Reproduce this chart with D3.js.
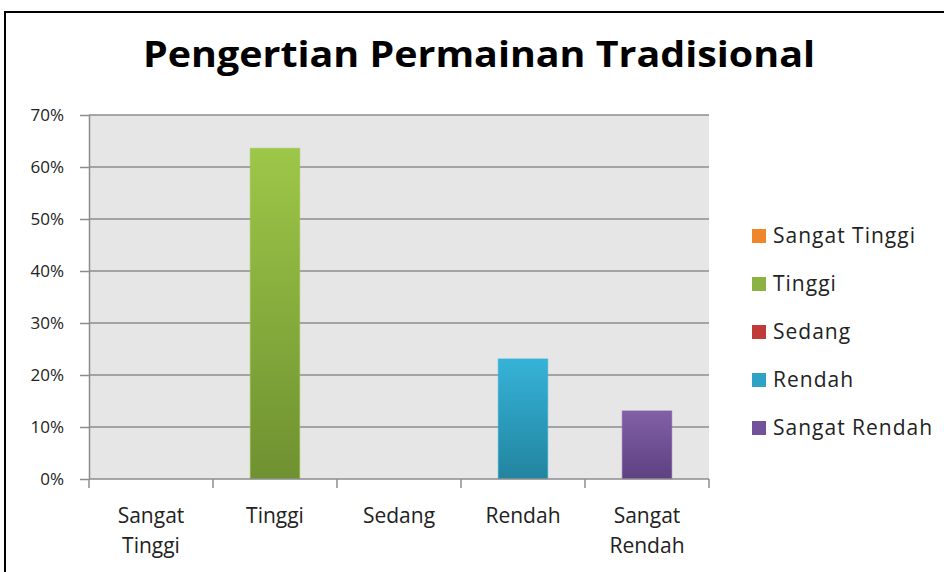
<!DOCTYPE html>
<html><head><meta charset="utf-8">
<script src="https://cdn.jsdelivr.net/npm/d3@7/dist/d3.min.js"></script>
<style>body{margin:0;background:#fff}svg{display:block}</style>
</head><body>
<svg id="c" width="944" height="572"></svg>
<script>
const title = "Pengertian Permainan Tradisional";
const categories = ["Sangat Tinggi","Tinggi","Sedang","Rendah","Sangat Rendah"];
const values = [0, 0.636, 0, 0.231, 0.131];
const yTicks = [0,0.1,0.2,0.3,0.4,0.5,0.6,0.7];
const colorsTop = ["#f7923a","#9dc748","#c9403c","#36b3d8","#8260a8"];
const colorsBot = ["#d8772a","#6f9131","#a4302d","#22849f","#5d4180"];
const legendColors = ["#f0862c","#8cb244","#c03a38","#2ea2c4","#72529a"];

const svg = d3.select("#c");
const font = "'Open Sans', Lato, sans-serif";
svg.append("rect").attr("x",5).attr("y",12).attr("width",945).attr("height",570)
  .attr("fill","#fff").attr("stroke","#000").attr("stroke-width",2);

const m = {l:89, r:709, t:115, b:479};
const x = d3.scaleBand().domain(categories).range([m.l,m.r]).paddingInner(0.6).paddingOuter(0.3);
const y = d3.scaleLinear().domain([0,0.7]).range([m.b,m.t]);

svg.append("rect").attr("x",m.l).attr("y",m.t).attr("width",m.r-m.l).attr("height",m.b-m.t).attr("fill","#e6e6e6");

svg.append("g").selectAll("line").data(yTicks.filter(d=>d>0)).join("line")
  .attr("x1",m.l).attr("x2",m.r).attr("y1",d=>y(d)).attr("y2",d=>y(d))
  .attr("stroke","#8c8c8c").attr("stroke-width",1.5);

const defs = svg.append("defs");
categories.forEach((c,i)=>{
  const g = defs.append("linearGradient").attr("id","g"+i).attr("x1",0).attr("x2",0).attr("y1",0).attr("y2",1);
  g.append("stop").attr("offset","0%").attr("stop-color",colorsTop[i]);
  g.append("stop").attr("offset","100%").attr("stop-color",colorsBot[i]);
});

svg.append("g").selectAll("rect").data(values).join("rect")
  .attr("x",(d,i)=>x(categories[i])).attr("width",x.bandwidth())
  .attr("y",d=>y(d)).attr("height",d=>y(0)-y(d))
  .attr("fill",(d,i)=>`url(#g${i})`)
  .attr("stroke",(d,i)=>colorsTop[i]).attr("stroke-opacity",0.5).attr("stroke-width",1);

const yAxis = d3.axisLeft(y).tickValues(yTicks).tickFormat(d3.format(".0%")).tickSize(9).tickSizeOuter(0);
const ga = svg.append("g").attr("transform",`translate(${m.l},0)`).call(yAxis);
ga.select(".domain").attr("stroke","#8c8c8c").attr("stroke-width",1.5);
ga.selectAll(".tick line").attr("stroke","#8c8c8c").attr("stroke-width",1.5);
ga.selectAll("text").attr("font-family",font).attr("font-size",17).attr("fill","#222").attr("x",-25).attr("dy","0.35em");

const xa = svg.append("g").attr("transform",`translate(0,${m.b})`);
xa.append("line").attr("x1",m.l).attr("x2",m.r).attr("stroke","#8c8c8c").attr("stroke-width",1.5);
const step = (m.r-m.l)/categories.length;
xa.selectAll("line.t").data(d3.range(categories.length+1)).join("line").attr("class","t")
  .attr("x1",i=>m.l+i*step).attr("x2",i=>m.l+i*step).attr("y1",0).attr("y2",9)
  .attr("stroke","#8c8c8c").attr("stroke-width",1.5);
categories.forEach((c,i)=>{
  const cx = m.l + (i+0.5)*step;
  const parts = c.split(" ");
  const t = xa.append("text").attr("x",cx).attr("y",44).attr("text-anchor","middle")
    .attr("font-family",font).attr("font-size",21).attr("fill","#222");
  parts.forEach((p,j)=>t.append("tspan").attr("x",cx).attr("dy",j?30:0).text(p));
});

svg.append("text").attr("x",479).attr("y",67).attr("text-anchor","middle")
  .attr("font-family",font).attr("font-weight","bold").attr("font-size",35).attr("fill","#000")
  .attr("textLength",672).attr("lengthAdjust","spacingAndGlyphs").text(title);

const lg = svg.append("g");
categories.forEach((c,i)=>{
  const ly = 236 + i*48;
  lg.append("rect").attr("x",752).attr("y",ly-7).attr("width",14).attr("height",14).attr("fill",legendColors[i]);
  lg.append("text").attr("x",773).attr("y",ly).attr("dy","0.35em").attr("font-family",font).attr("font-size",21)
    .attr("letter-spacing",1).attr("fill","#222").text(c);
});
</script>
</body></html>
